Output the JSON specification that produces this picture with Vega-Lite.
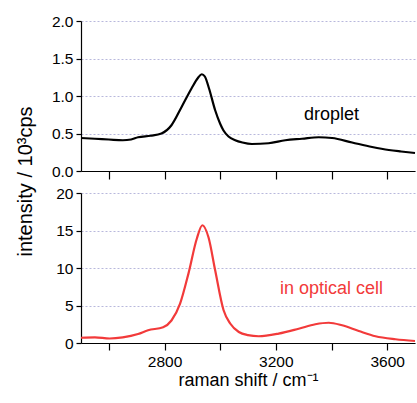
{
  "$schema": "https://vega.github.io/schema/vega-lite/v6.json",
  "padding": {"left": 15, "top": 14, "right": 0, "bottom": 2},
  "spacing": 22,
  "bounds": "flush",
  "background": "white",
  "config": {
    "view": {"stroke": null},
    "font": "Liberation Sans",
    "axis": {
      "domainColor": "#000000",
      "domainWidth": 1.2,
      "tickColor": "#000000",
      "tickWidth": 1.2,
      "labelColor": "#000000",
      "labelFontSize": 15.5,
      "labelFont": "Liberation Sans",
      "labelOverlap": false,
      "titleFont": "Liberation Sans",
      "titleFontWeight": "normal",
      "titleColor": "#000000",
      "titleFontSize": 18,
      "gridColor": "#b8b8dc",
      "gridDash": [2, 2],
      "gridWidth": 1
    }
  },
  "datasets": {
    "droplet": [
      {"x": 2500, "y": 0.44}, {"x": 2550, "y": 0.43}, {"x": 2600, "y": 0.42}, {"x": 2650, "y": 0.41},
      {"x": 2680, "y": 0.42}, {"x": 2705, "y": 0.45}, {"x": 2750, "y": 0.47}, {"x": 2789, "y": 0.5},
      {"x": 2825, "y": 0.61}, {"x": 2861, "y": 0.85}, {"x": 2897, "y": 1.1}, {"x": 2920, "y": 1.24},
      {"x": 2934, "y": 1.29}, {"x": 2945, "y": 1.26}, {"x": 2960, "y": 1.1}, {"x": 2982, "y": 0.81},
      {"x": 3000, "y": 0.63}, {"x": 3012, "y": 0.54}, {"x": 3030, "y": 0.46}, {"x": 3054, "y": 0.41},
      {"x": 3080, "y": 0.38}, {"x": 3114, "y": 0.36}, {"x": 3174, "y": 0.37}, {"x": 3234, "y": 0.41},
      {"x": 3294, "y": 0.43}, {"x": 3354, "y": 0.45}, {"x": 3402, "y": 0.44}, {"x": 3474, "y": 0.38},
      {"x": 3546, "y": 0.32}, {"x": 3606, "y": 0.28}, {"x": 3650, "y": 0.26}, {"x": 3700, "y": 0.24}
    ],
    "cell": [
      {"x": 2500, "y": 0.7}, {"x": 2550, "y": 0.75}, {"x": 2603, "y": 0.6}, {"x": 2650, "y": 0.75},
      {"x": 2705, "y": 1.2}, {"x": 2741, "y": 1.7}, {"x": 2795, "y": 2.1}, {"x": 2825, "y": 3.0},
      {"x": 2856, "y": 5.25}, {"x": 2886, "y": 9.25}, {"x": 2916, "y": 13.9}, {"x": 2936, "y": 15.7},
      {"x": 2958, "y": 14.1}, {"x": 2982, "y": 9.7}, {"x": 3012, "y": 4.4}, {"x": 3036, "y": 2.6},
      {"x": 3067, "y": 1.47}, {"x": 3100, "y": 1.05}, {"x": 3138, "y": 0.9}, {"x": 3210, "y": 1.25},
      {"x": 3282, "y": 1.9}, {"x": 3342, "y": 2.5}, {"x": 3390, "y": 2.7}, {"x": 3438, "y": 2.36},
      {"x": 3498, "y": 1.6}, {"x": 3558, "y": 0.9}, {"x": 3630, "y": 0.5}, {"x": 3700, "y": 0.27}
    ],
    "lab1": [{"x": 3400, "y": 0.75, "t": "droplet"}],
    "lab2": [{"x": 3400, "y": 7.25, "t": "in optical cell"}]
  },
  "vconcat": [
    {
      "width": 334,
      "height": 150,
      "encoding": {
        "x": {"field": "x", "type": "quantitative", "scale": {"domain": [2500, 3700], "nice": false, "zero": false},
              "axis": {"values": [2600, 2800, 3000, 3200, 3400, 3600], "labels": false, "title": null, "grid": false, "tickSize": 8}},
        "y": {"field": "y", "type": "quantitative", "scale": {"domain": [0, 2.0], "nice": false},
              "axis": {"values": [0, 0.5, 1.0, 1.5, 2.0], "format": ".1f", "grid": true, "tickSize": 5, "labelPadding": 3,
                       "title": "intensity / 10³cps", "titleFontSize": 20, "titleX": -50, "titleY": 160, "titleAngle": -90, "titleAlign": "center", "titleBaseline": "alphabetic"}}
      },
      "layer": [
        {
          "data": {"name": "droplet"},
          "mark": {"type": "line", "color": "#000000", "strokeWidth": 2.2, "interpolate": "monotone"}
        },
        {
          "data": {"name": "lab1"},
          "mark": {"type": "text", "fontSize": 18, "color": "#000000", "font": "Liberation Sans"},
          "encoding": {"text": {"field": "t"}}
        }
      ]
    },
    {
      "width": 334,
      "height": 150,
      "encoding": {
        "x": {"field": "x", "type": "quantitative", "scale": {"domain": [2500, 3700], "nice": false, "zero": false},
              "axis": {"values": [2600, 2800, 3000, 3200, 3400, 3600], "labelExpr": "datum.value % 400 == 0 ? datum.label : ''", "format": "d", "grid": false, "tickSize": 7, "labelPadding": 4,
                       "title": "raman shift / cm⁻¹", "titlePadding": 2}},
        "y": {"field": "y", "type": "quantitative", "scale": {"domain": [0, 20], "nice": false},
              "axis": {"values": [0, 5, 10, 15, 20], "grid": true, "tickSize": 5, "labelPadding": 3, "title": null}}
      },
      "layer": [
        {
          "data": {"name": "cell"},
          "mark": {"type": "line", "color": "#f23a3a", "strokeWidth": 2.2, "interpolate": "monotone"}
        },
        {
          "data": {"name": "lab2"},
          "mark": {"type": "text", "fontSize": 18, "color": "#f23a3a", "font": "Liberation Sans"},
          "encoding": {"text": {"field": "t"}}
        }
      ]
    }
  ]
}
